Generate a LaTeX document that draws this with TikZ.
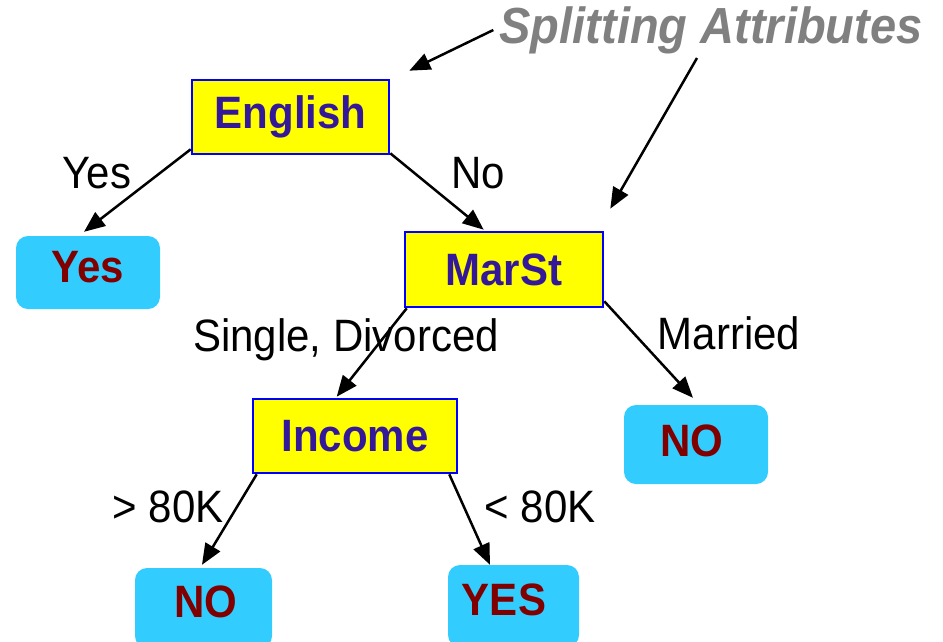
\documentclass[tikz,border=0pt]{standalone}
\usepackage{fontspec}
\setmainfont{Liberation Sans}
\usetikzlibrary{calc,arrows.meta}
\definecolor{boxyellow}{RGB}{255,255,0}
\definecolor{boxblue}{RGB}{0,0,255}
\definecolor{nodetext}{RGB}{51,25,153}
\definecolor{leafcyan}{RGB}{51,204,255}
\definecolor{leaftext}{RGB}{128,0,0}
\definecolor{titlegray}{RGB}{128,128,128}
\newcommand{\tallt}[1]{\scalebox{1}[1.08]{#1}}
\tikzset{
  attrbox/.style={draw=boxblue, line width=2.6pt, fill=boxyellow, text=nodetext,
    font=\fontsize{42}{48}\selectfont\bfseries, inner sep=0pt},
  leafbox/.style={fill=leafcyan, rounded corners=12pt, inner sep=0pt},
  leaftxt/.style={text=leaftext, font=\fontsize{42}{48}\selectfont\bfseries, inner sep=0pt},
  edgelabel/.style={font=\fontsize{42}{48}\selectfont, inner sep=0pt, text=black},
  conn/.style={line width=2.5pt, -{Triangle[length=21pt,width=17pt]}},
}
\begin{document}
\begin{tikzpicture}[x=1pt,y=-1pt]
\useasboundingbox (0,0) rectangle (943,641);
\clip (0,0) rectangle (943,641);
% attribute boxes
\node[attrbox, minimum width=197pt, minimum height=74pt] (eng) at (290.5,117) {\tallt{English}};
\node[attrbox, minimum width=198pt, minimum height=75pt] (marst) at (504,269.5) {\tallt{MarSt}};
\node[attrbox, minimum width=204pt, minimum height=74pt] (income) at (355,436) {\tallt{Income}};
% leaves
\node[leafbox, minimum width=144pt, minimum height=73pt] (yesl) at (88,272.5) {};
\node[leaftxt] (yeslt) at (88,267.5) {\tallt{Yes}};
\node[leafbox, minimum width=144pt, minimum height=79pt] (nor) at (696,444.5) {};
\node[leaftxt] (nort) at (692,441) {\tallt{NO}};
\node[leafbox, minimum width=137pt, minimum height=80pt] (nol) at (203.5,608) {};
\node[leaftxt] (nolt) at (206,602) {\tallt{NO}};
\node[leafbox, minimum width=131pt, minimum height=82pt] (yesr) at (513.5,606) {};
\node[leaftxt] (yesrt) at (504,600) {\tallt{YES}};
% title
\node[font=\fontsize{47}{52}\selectfont\bfseries\itshape, text=titlegray, inner sep=0pt] (title) at (711,30) {\tallt{Splitting Attributes}};
% edge labels
\node[edgelabel] (lyes) at (97,173) {\tallt{Yes}};
\node[edgelabel] (lno) at (478,173) {\tallt{No}};
\node[edgelabel] (lsd) at (346,340) {\tallt{Single, Divorced}};
\node[edgelabel] (lmar) at (729,333) {\tallt{Married}};
\node[edgelabel] (lgt) at (168,507) {\tallt{> 80K}};
\node[edgelabel] (llt) at (540,507) {\tallt{< 80K}};
% connectors
\draw[conn] ($(eng.south west)+(0,-6)$) -- ($(yesl.north)+(-4,-4)$);
\draw[conn] ($(eng.south east)+(0,-2)$) -- ($(marst.north west)+(80,-1)$);
\draw[conn] ($(marst.south west)+(3,0)$) -- ($(income.north west)+(85,-1)$);
\draw[conn] ($(marst.south east)+(0,-7)$) -- ($(nor.north)+(-3,-7)$);
\draw[conn] ($(income.south west)+(5,0)$) -- ($(nol.north)+(-1.5,-3)$);
\draw[conn] ($(income.south east)+(-9,0)$) -- ($(yesr.north)+(-23.5,0)$);
\coordinate (t1) at ($(title.west)+(-6,0)$);
\coordinate (t2) at ($(title.center)+(-14,28)$);
\draw[conn] (t1) -- ($(eng.north east)+(19,-8)$);
\draw[conn] (t2) -- ($(marst.north east)+(6,-22)$);
\end{tikzpicture}
\end{document}
